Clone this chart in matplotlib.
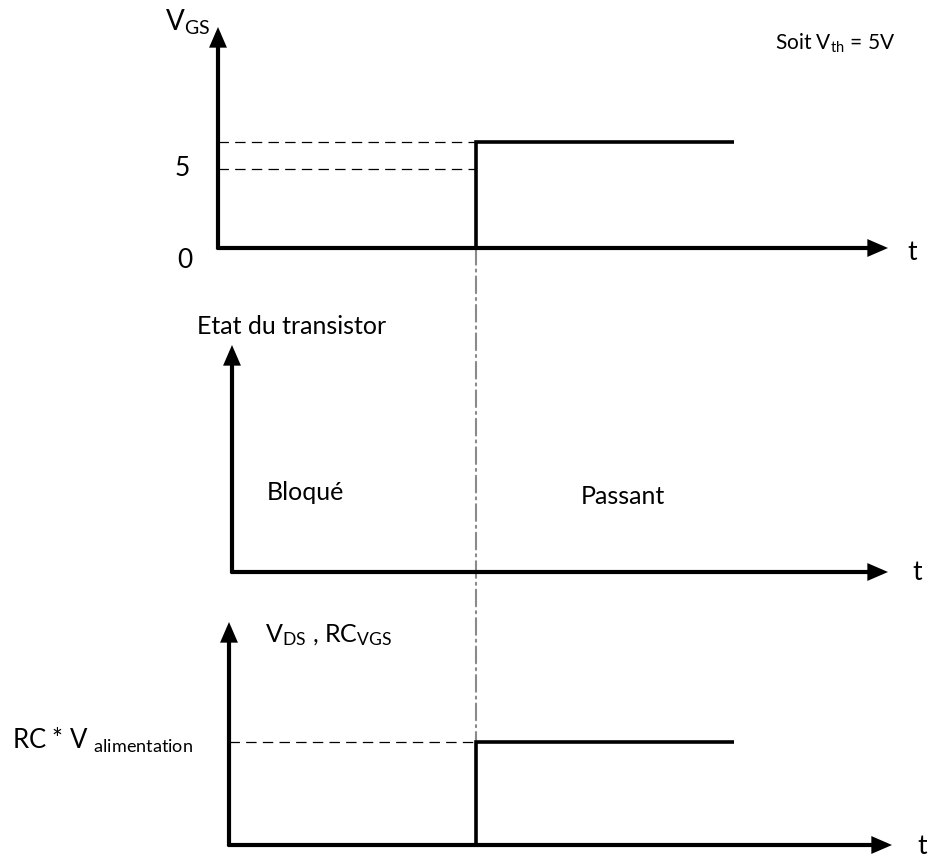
import matplotlib
matplotlib.use("Agg")
import matplotlib.pyplot as plt
from matplotlib.patches import ConnectionPatch

plt.rcParams['font.family'] = ['Lato', 'DejaVu Sans']
plt.rcParams['mathtext.fontset'] = 'custom'
plt.rcParams['mathtext.rm'] = 'Lato'
plt.rcParams['mathtext.it'] = 'Lato'
plt.rcParams['lines.scale_dashes'] = False

# ---------------- data ----------------
t_switch = 5.0          # instant of switching
t_end = 10.0            # end of drawn signal
vgs_time = [0.0, t_switch, t_switch, t_end]
vgs_vals = [0.0, 0.0, 6.7, 6.7]
v_th = 5.0
vgs_ref_levels = [v_th, 6.7]
vgs_ymax = 14.0

vds_time = [0.0, t_switch, t_switch, t_end]
vds_vals = [0.0, 0.0, 1.0, 1.0]
vds_level = 1.0
vds_ymax = 2.17

state_labels = ["Bloqué", "Passant"]

# ---------------- layout ----------------
W, H = 930, 857
fig = plt.figure(figsize=(W / 100, H / 100), dpi=100)
fig.patch.set_facecolor('white')

X0_PX = 218           # pixel of t = 0 in the first panel
X_SWITCH_PX = 476     # pixel of the switching instant
PX_PER_T = (X_SWITCH_PX - X0_PX) / t_switch


def rect(l, t, r, b):
    return [l / W, 1 - b / H, (r - l) / W, (b - t) / H]


def make_ax(l, t, r, b, ymax):
    ax = fig.add_axes(rect(l, t, r, b))
    ax.set_xlim((l - X0_PX) / PX_PER_T, (r - X0_PX) / PX_PER_T)
    ax.set_ylim(0, ymax)
    ax.axis('off')
    ax.patch.set_alpha(0)
    return ax


ax1 = make_ax(218, 27, 888, 248, vgs_ymax)
ax2 = make_ax(232, 345, 888, 572, 1.0)
ax3 = make_ax(229, 622, 892, 845, vds_ymax)

AX_LW = 3.0
arrow_props = dict(arrowstyle='-|>,head_length=0.6,head_width=0.26',
                   lw=AX_LW, color='black', shrinkA=0, shrinkB=0,
                   mutation_scale=16, capstyle='butt', joinstyle='miter')

for ax in (ax1, ax2, ax3):
    ax.annotate('', xy=(1, 0), xytext=(-0.002, 0), xycoords='axes fraction',
                arrowprops=arrow_props, annotation_clip=False)
    ax.annotate('', xy=(0, 1), xytext=(0, -0.006), xycoords='axes fraction',
                arrowprops=arrow_props, annotation_clip=False)

# dash-dot switching line
con = ConnectionPatch(xyA=(t_switch, 0), coordsA='data', axesA=ax1,
                      xyB=(t_switch, 0), coordsB='data', axesB=ax3,
                      color='#8a8a8a', lw=1.5, linestyle=(0, (12, 3.5, 1.5, 3.5)),
                      zorder=0)
fig.add_artist(con)

# VGS panel
for lvl in vgs_ref_levels:
    ax1.plot([0, t_switch], [lvl, lvl], color='black', lw=0.9,
             linestyle=(0, (7.5, 4.5)), solid_capstyle='butt')
ax1.plot(vgs_time, vgs_vals, color='black', lw=2.6, solid_joinstyle='miter',
         solid_capstyle='butt', zorder=3)

# VDS panel
x3_left = ax3.get_xlim()[0]
ax3.plot([x3_left, t_switch], [vds_level, vds_level], color='black', lw=0.9,
         linestyle=(0, (7.5, 4.5)))
ax3.plot(vds_time, vds_vals, color='black', lw=2.6, solid_joinstyle='miter',
         solid_capstyle='butt', zorder=3, clip_on=True)


def ftext(x, y, s, size, ha='left', va='center'):
    fig.text(x / W, 1 - y / H, s, fontsize=size, ha=ha, va=va, color='black')


LBL = 18
NUM = 19
ftext(210, 22, r'V$_{\mathrm{GS}}$', 20, ha='right')
ftext(895, 43, r'Soit V$_{\mathrm{th}}$ = 5V', 15, ha='right')
ftext(182, 168, '5', NUM, ha='center')
ftext(185, 260, '0', NUM, ha='center')
ftext(912, 252, 't', NUM, ha='center')
ftext(197, 326, 'Etat du transistor', LBL)
ftext(267, 493, state_labels[0], LBL)
ftext(581, 497, state_labels[1], LBL)
ftext(917, 572, 't', NUM, ha='center')
ftext(265, 635, r'V$_{\mathrm{DS}}$ , RC$_{\mathrm{VGS}}$', LBL)
ftext(12, 740, r'RC * V $_{\mathrm{alimentation}}$', 18.5)
ftext(922, 846, 't', NUM, ha='center')

fig.savefig('out.png', dpi=100, facecolor='white')
